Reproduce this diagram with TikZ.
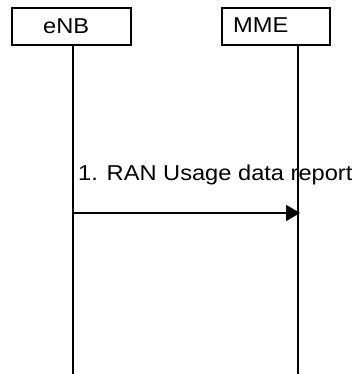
\documentclass[tikz,border=0pt]{standalone}
\usepackage{fontspec}
\setmainfont{Liberation Sans}
\usetikzlibrary{arrows.meta}
\begin{document}
\begin{tikzpicture}[x=1pt,y=-1pt,
  entbox/.style={draw=black, line width=1.8pt, minimum width=#1, minimum height=37pt, inner sep=0pt},
  txt/.style={inner sep=0pt, anchor=base west, font=\fontsize{21.5}{25}\selectfont},
  life/.style={draw=black, line width=2pt},
  msg/.style={draw=black, line width=2pt, -{Triangle[length=14pt,width=16pt]}}]
\useasboundingbox (0,0) rectangle (352,374);
% entity boxes
\node[entbox=119pt] (enbbox) at (71.5,26.5) {};
\node[entbox=108pt] (mmebox) at (276,26.5) {};
\node[txt] (enbtxt) at (43,33.5) {\scalebox{1.1}[1]{eNB}};
\node[txt] (mmetxt) at (233,33) {\scalebox{1.1}[1]{MME}};
% lifelines
\coordinate (enbbot) at (73,374);
\coordinate (mmebot) at (298,374);
\draw[life] (enbbox.south -| enbbot) -- (enbbot);
\draw[life] (mmebox.south -| mmebot) -- (mmebot);
% message
\coordinate (m1s) at (73,213);
\coordinate (m1e) at (300,213);
\draw[msg] (m1s) -- (m1e);
\node[txt] (m1lbl) at (78,180.5) {\scalebox{1.1}[1]{1. RAN Usage data report}};
\end{tikzpicture}
\end{document}
